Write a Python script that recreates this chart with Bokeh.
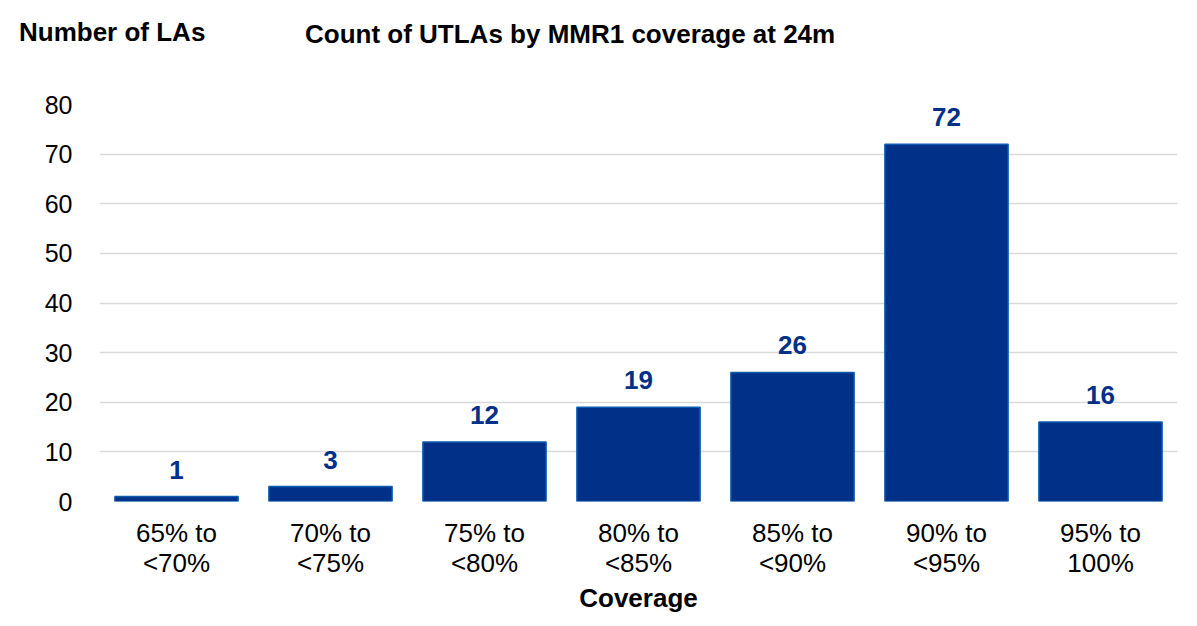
from bokeh.plotting import figure
from bokeh.layouts import column
from bokeh.models import ColumnDataSource, LabelSet, Div
from bokeh.core.properties import value
from bokeh.embed import file_html
from bokeh.resources import INLINE

# Coverage bands and the number of UTLAs in each
categories = ["65% to\n<70%", "70% to\n<75%", "75% to\n<80%", "80% to\n<85%",
              "85% to\n<90%", "90% to\n<95%", "95% to\n100%"]
counts = [1, 3, 12, 19, 26, 72, 16]
y_ticks = [0, 10, 20, 30, 40, 50, 60, 70, 80]
y_caption = "Number of LAs"
chart_title = "Count of UTLAs by MMR1 coverage at 24m"

FONT = "Liberation Sans"
NAVY = "#003087"
EDGE = "#0B5CB0"
W = 1197
HEAD_H = 70

# --- heading strip: y-axis caption on the left, chart title beside it ---
span_css = ("position:absolute;line-height:1;white-space:nowrap;"
            "font-family:'Liberation Sans',Arial,sans-serif;font-weight:bold;"
            "font-size:26px;color:#000;")
head = Div(
    text=(f'<div style="position:relative;width:{W}px;height:{HEAD_H}px;">'
          f'<span style="{span_css}left:19px;top:19px;">{y_caption}</span>'
          f'<span style="{span_css}left:305px;top:21px;">{chart_title}</span>'
          '</div>'),
    width=W, height=HEAD_H, margin=0)

# --- bar chart ---
src = ColumnDataSource(dict(cat=categories, n=counts, lab=[str(c) for c in counts]))

p = figure(width=W, height=626 - HEAD_H, x_range=categories, y_range=(0, 80),
           output_backend="svg", toolbar_location=None,
           min_border_left=99, min_border_right=20,
           min_border_top=104 - HEAD_H, min_border_bottom=125)
p.outline_line_color = None
p.background_fill_color = "white"
p.border_fill_color = "white"

p.vbar(x="cat", top="n", width=0.8, source=src,
       fill_color=NAVY, line_color=EDGE, line_width=1.5)

labels = LabelSet(x="cat", y="n", text="lab", source=src,
                  text_align="center", text_baseline="alphabetic", y_offset=18,
                  text_font=value(FONT), text_font_size="26px",
                  text_font_style="bold", text_color=NAVY)
p.add_layout(labels)

p.yaxis.ticker = y_ticks
p.yaxis.axis_line_color = None
p.yaxis.major_tick_line_color = None
p.yaxis.minor_tick_line_color = None
p.yaxis.major_label_standoff = 21
p.yaxis.major_label_text_font = FONT
p.yaxis.major_label_text_font_size = "25px"
p.yaxis.major_label_text_color = "black"

p.xaxis.axis_line_color = None
p.xaxis.major_tick_line_color = None
p.xaxis.major_label_standoff = 10
p.xaxis.major_label_text_font = FONT
p.xaxis.major_label_text_font_size = "26px"
p.xaxis.major_label_text_color = "black"
p.xaxis.major_label_text_line_height = 1.0
p.xaxis.axis_label = "Coverage"
p.xaxis.axis_label_text_font = FONT
p.xaxis.axis_label_text_font_size = "26px"
p.xaxis.axis_label_text_font_style = "bold"
p.xaxis.axis_label_text_color = "black"
p.xaxis.axis_label_standoff = 2

p.xgrid.grid_line_color = None
p.ygrid.grid_line_color = "#D9D9D9"
p.ygrid.grid_line_width = 1.5

layout = column(head, p, spacing=0)
open("out.html", "w").write(file_html(layout, INLINE))
